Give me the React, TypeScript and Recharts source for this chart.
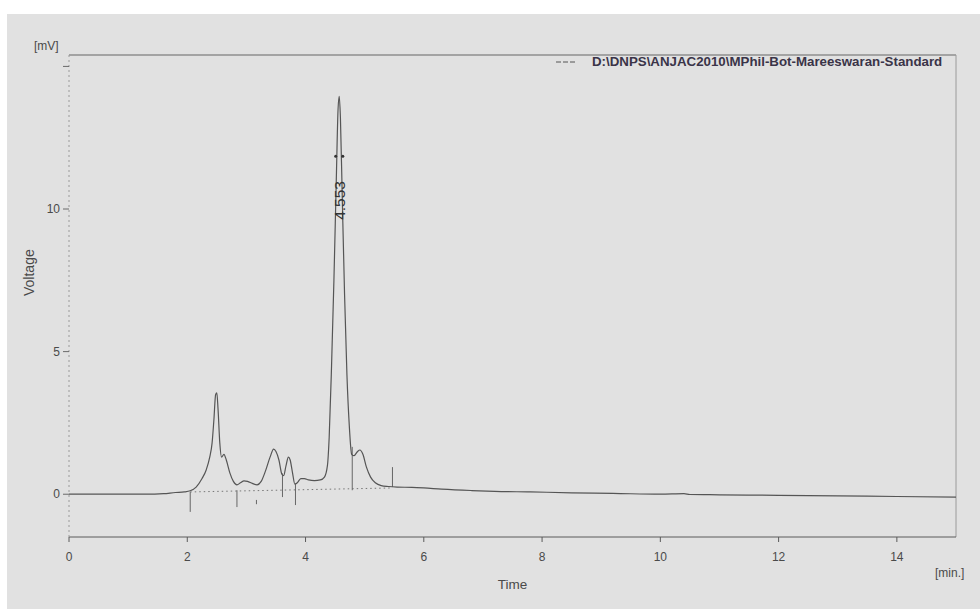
import React from "react";
import {
  ComposedChart,
  Line,
  XAxis,
  YAxis,
  ReferenceLine,
  ReferenceDot,
} from "recharts";

// Chromatogram trace: time [min] and voltage [mV]
const times = [
  0, 0.5, 1.0, 1.3, 1.6, 1.8, 1.95, 2.05, 2.15, 2.25, 2.32, 2.38, 2.42, 2.45,
  2.48, 2.5, 2.52, 2.55, 2.58, 2.62, 2.66, 2.72, 2.78, 2.84, 2.9, 2.96, 3.02,
  3.1, 3.18, 3.25, 3.32, 3.4, 3.46, 3.5, 3.55, 3.6, 3.63, 3.67, 3.71, 3.74,
  3.78, 3.82, 3.86, 3.92, 3.98, 4.05, 4.15, 4.25, 4.32, 4.37, 4.4, 4.44, 4.48,
  4.52, 4.55, 4.57, 4.59, 4.62, 4.66, 4.7, 4.74, 4.78, 4.82, 4.88, 4.92, 4.97,
  5.03, 5.1, 5.18, 5.28, 5.4, 5.55, 5.8, 6.0, 6.3, 6.8, 7.2, 7.8, 8.5, 9.2,
  10.0, 10.4, 10.5, 11.0, 12.0, 13.0, 14.0, 15.0,
];
const voltages = [
  0.0, 0.0, 0.0, 0.0, 0.02, 0.06, 0.08, 0.12, 0.25, 0.55, 0.85, 1.3, 1.8, 2.6,
  3.5, 3.55, 3.0, 1.8, 1.3, 1.4, 1.2, 0.75, 0.45, 0.33, 0.4, 0.47, 0.45, 0.38,
  0.33, 0.45, 0.8, 1.3, 1.58, 1.5, 1.2, 0.7, 0.65, 1.0, 1.3, 1.2, 0.75, 0.35,
  0.4, 0.55, 0.55, 0.5, 0.48, 0.5, 0.6, 1.0, 2.0, 4.5, 7.5, 11.0, 13.5, 13.95,
  13.2, 10.5, 7.0, 4.2, 2.4, 1.4, 1.35, 1.5, 1.55, 1.4, 0.95, 0.6, 0.4, 0.3,
  0.27, 0.25, 0.24, 0.22, 0.18, 0.13, 0.1, 0.08, 0.05, 0.03, 0.0, 0.02, -0.01,
  -0.02, -0.04, -0.06, -0.08, -0.1,
];

// Peak boundary markers (time, top, bottom) in mV
const markerTimes = [2.05, 2.84, 3.17, 3.61, 3.83, 4.79, 5.47];
const markerTops = [0.08, 0.14, -0.2, 0.73, 0.38, 1.66, 0.95];
const markerBottoms = [-0.62, -0.45, -0.35, -0.1, -0.38, 0.14, 0.25];

// Integration baseline (dotted)
const baselineTimes = [2.05, 5.47];
const baselineValues = [0.08, 0.22];

const peakLabel = "4.553";
const peakTime = 4.553;
const peakLabelLevel = 10.3;
const peakDotTimes = [4.51, 4.63];
const peakDotLevel = 11.85;

const xTicks = [0, 2, 4, 6, 8, 10, 12, 14];
const yTicks = [0, 5, 10, 15];
const xDomain = [0, 15];
const yDomain = [-1.5, 15.4];

const legendText = "D:\\DNPS\\ANJAC2010\\MPhil-Bot-Mareeswaran-Standard";

const data = times.map((t, i) => ({ t, v: voltages[i] }));

const FONT = "'Liberation Sans', Arial, sans-serif";
const TEXT = "#4a4a4a";
const TRACE = "#555";

const PeakText = (p: any) => {
  const { cx, cy } = p;
  return (
    <g transform={`translate(${cx + 1}, ${cy}) rotate(-90)`}>
      <text
        x={0}
        y={0}
        textAnchor="middle"
        dominantBaseline="central"
        fontFamily={FONT}
        fontSize={15.5}
        fill="#333"
      >
        {peakLabel}
      </text>
    </g>
  );
};

export default function App() {
  return (
    <div
      style={{
        position: "absolute",
        left: 0,
        top: 0,
        width: 980,
        height: 609,
        background: "#ffffff",
        overflow: "hidden",
      }}
    >
      <div
        style={{
          position: "absolute",
          left: 7,
          top: 14,
          right: 0,
          bottom: 0,
          background: "#e1e1e1",
        }}
      />
      <div style={{ position: "absolute", left: 0, top: 0 }}>
        <ComposedChart
          width={980}
          height={609}
          data={data}
          margin={{ top: 55, right: 24, bottom: 42, left: 9 }}
        >
          <XAxis
            dataKey="t"
            type="number"
            domain={xDomain}
            ticks={xTicks}
            allowDataOverflow
            height={30}
            tickSize={5}
            tickMargin={10}
            stroke="#5a5a5a"
            tick={{ fill: TEXT, fontSize: 12, fontFamily: FONT }}
            label={{
              value: "Time",
              position: "insideBottom",
              offset: -22,
              fill: TEXT,
              fontSize: 13.5,
              fontFamily: FONT,
            }}
          />
          <YAxis
            type="number"
            domain={yDomain}
            ticks={yTicks}
            allowDataOverflow
            width={60}
            tickSize={6}
            tickMargin={3}
            stroke="#8a8a8a"
            axisLine={{ stroke: "#9a9a9a", strokeDasharray: "2 3" }}
            tickLine={{ stroke: "#6a6a6a" }}
            tickFormatter={(v: number) => (v === 15 ? "" : String(v))}
            tick={{ fill: TEXT, fontSize: 12, fontFamily: FONT }}
            label={{
              value: "Voltage",
              angle: -90,
              position: "insideLeft",
              offset: 20,
              fill: TEXT,
              fontSize: 14,
              fontFamily: FONT,
            }}
          />
          <ReferenceLine y={yDomain[1]} stroke="#666" strokeWidth={1.2} ifOverflow="visible" />
          <ReferenceLine x={xDomain[1]} stroke="#9a9a9a" ifOverflow="visible" />
          <ReferenceLine
            segment={[
              { x: baselineTimes[0], y: baselineValues[0] },
              { x: baselineTimes[1], y: baselineValues[1] },
            ]}
            stroke="#777"
            strokeDasharray="1.5 3"
          />
          {markerTimes.map((t, i) => (
            <ReferenceLine
              key={"m" + i}
              segment={[
                { x: t, y: markerTops[i] },
                { x: t, y: markerBottoms[i] },
              ]}
              stroke="#666"
              strokeWidth={1}
            />
          ))}
          <Line
            dataKey="v"
            type="monotone"
            stroke={TRACE}
            strokeWidth={1.2}
            dot={false}
            isAnimationActive={false}
          />
          {peakDotTimes.map((t, i) => (
            <ReferenceDot
              key={"d" + i}
              x={t}
              y={peakDotLevel}
              r={1.5}
              fill="#333"
              stroke="none"
            />
          ))}
          <ReferenceDot x={peakTime} y={peakLabelLevel} r={0} shape={PeakText} />
        </ComposedChart>
      </div>
      <div
        style={{
          position: "absolute",
          left: 34,
          top: 39,
          fontFamily: FONT,
          fontSize: 12,
          color: TEXT,
        }}
      >
        [mV]
      </div>
      <div
        style={{
          position: "absolute",
          left: 935,
          top: 566,
          fontFamily: FONT,
          fontSize: 12,
          color: TEXT,
        }}
      >
        [min.]
      </div>
      <div
        style={{
          position: "absolute",
          left: 556,
          top: 54,
          display: "flex",
          alignItems: "center",
          fontFamily: FONT,
          fontSize: 13.3,
          fontWeight: "bold",
          color: "#3a3448",
          whiteSpace: "nowrap",
        }}
      >
        <svg width={22} height={10} style={{ marginRight: 14 }}>
          <line x1={0} y1={5} x2={20} y2={5} stroke="#555" strokeDasharray="5 2" />
        </svg>
        {legendText}
      </div>
    </div>
  );
}
